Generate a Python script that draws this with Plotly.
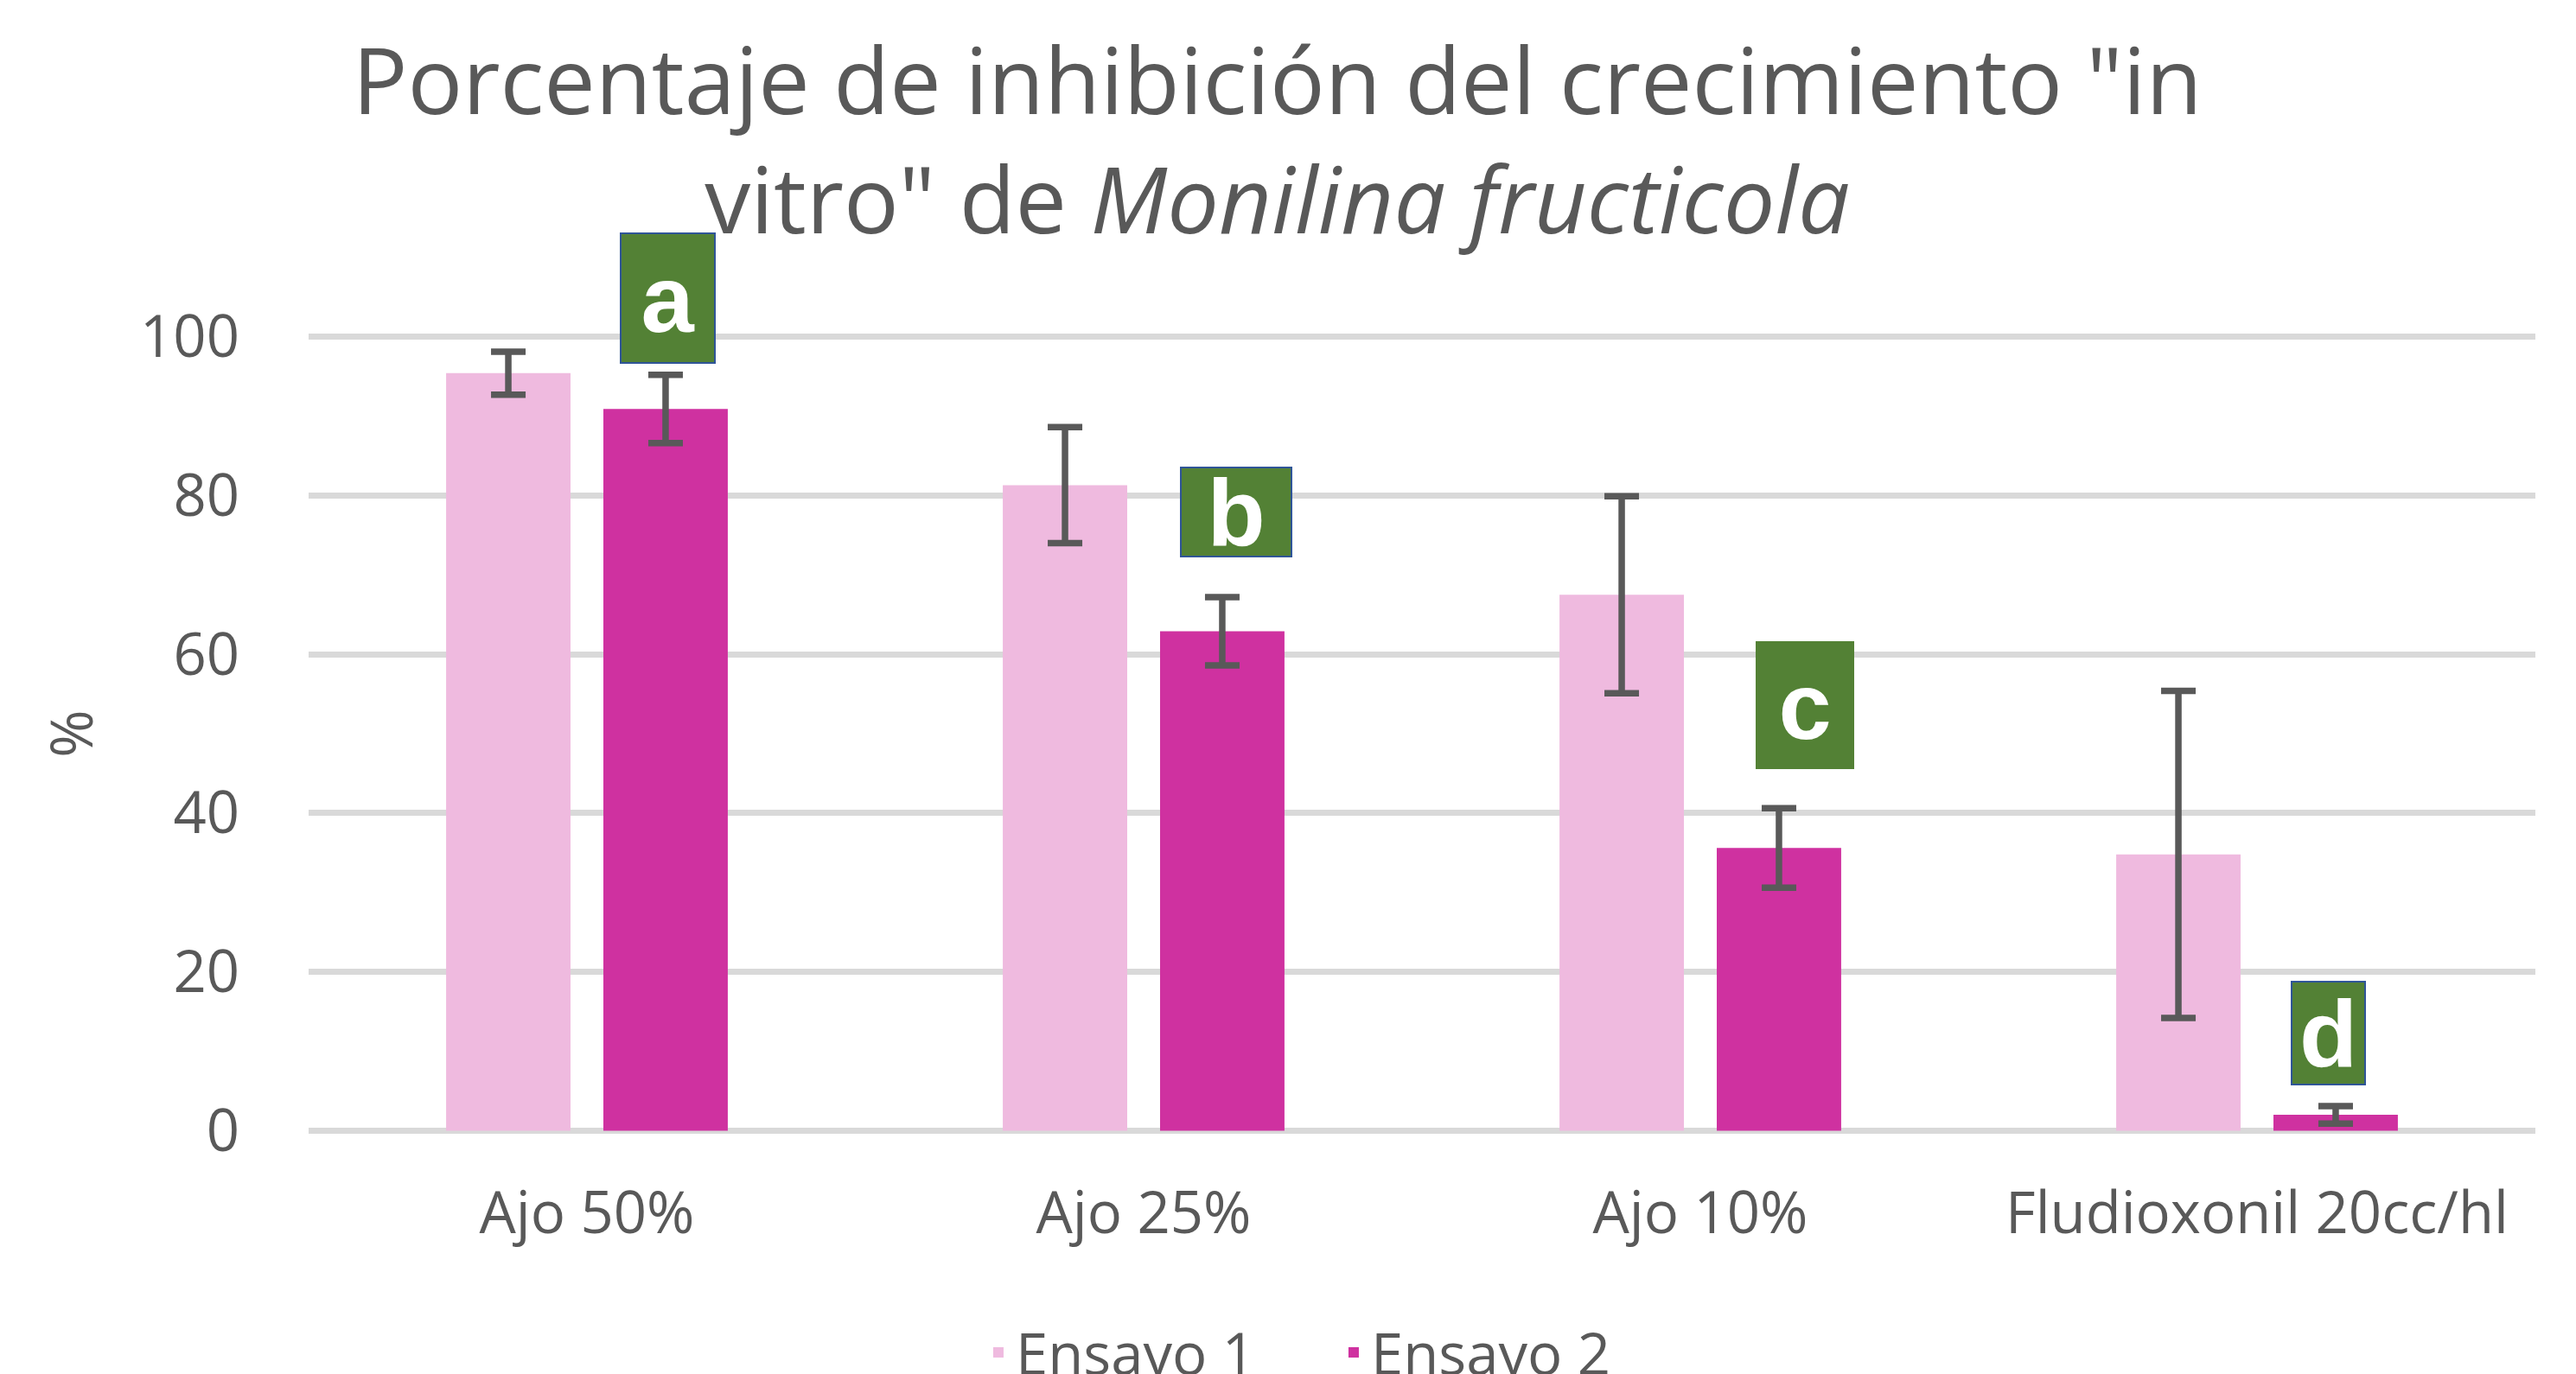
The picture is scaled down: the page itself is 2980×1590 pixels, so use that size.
import plotly.graph_objects as go

# ---- data ----
categories = ["Ajo 50%", "Ajo 25%", "Ajo 10%", "Fludioxonil 20cc/hl"]
ensayo1 = [95.4, 81.3, 67.5, 34.8]
ensayo1_err = [2.7, 7.3, 12.4, 20.6]
ensayo2 = [90.9, 62.9, 35.6, 2.0]
ensayo2_err = [4.3, 4.3, 5.0, 1.1]
letters = ["a", "b", "c", "d"]
series_names = ["Ensayo 1", "Ensayo 2"]
y_ticks = [0, 20, 40, 60, 80, 100]

# ---- styling ----
GRAY = "#595959"
FONT = "Open Sans"
COL1 = "#EFBADF"
COL2 = "#CF31A0"
TICK_SIZE = 67

# letter-box placement (style, in px / data units)
box_bottom = [96.6, 72.2, 45.5, 5.7]
box_xshift = [93, 107, 121, 82]
box_w = [111, 130, 114, 87]
box_h = [152, 105, 148, 121]
box_border = [True, True, False, True]

fig = go.Figure()
for name, vals, errs, col in [
    (series_names[0], ensayo1, ensayo1_err, COL1),
    (series_names[1], ensayo2, ensayo2_err, COL2),
]:
    fig.add_trace(go.Bar(
        name=name, x=categories, y=vals,
        marker=dict(color=col, line=dict(width=0)),
        error_y=dict(type="data", array=errs, visible=True,
                     color=GRAY, thickness=7.5, width=20),
    ))

for i, L in enumerate(letters):
    fig.add_annotation(
        x=categories[i], y=box_bottom[i], xref="x", yref="y",
        xshift=box_xshift[i], yanchor="bottom", xanchor="center",
        text=f"<b>{L}</b>", showarrow=False,
        font=dict(family="Liberation Sans", size=110, color="white"),
        bgcolor="#538135",
        bordercolor="#2F5597" if box_border[i] else "#538135",
        borderwidth=2, borderpad=0,
        width=box_w[i] - 4, height=box_h[i] - 4,
        align="center", valign="middle",
    )

fig.update_layout(
    width=2972, height=1582,
    margin=dict(l=349, r=47, t=377.4, b=276.9, autoexpand=False),
    paper_bgcolor="white", plot_bgcolor="white",
    barmode="group", bargap=0.435, bargroupgap=0.209,
    font=dict(family=FONT, color=GRAY, size=TICK_SIZE),
    title=dict(
        text='Porcentaje de inhibición del crecimiento "in<br>vitro" de <i>Monilina fructicola</i>',
        x=0.4945, xanchor="center", xref="container",
        y=1 - 124 / 1582, yanchor="top", yref="container",
        font=dict(family=FONT, size=106, color=GRAY),
    ),
    legend=dict(
        orientation="h", x=0.302, xanchor="left", y=-0.272, yanchor="middle",
        entrywidth=366, entrywidthmode="pixels",
        font=dict(family=FONT, size=TICK_SIZE, color=GRAY),
        bgcolor="rgba(0,0,0,0)",
    ),
    xaxis=dict(
        showgrid=False, zeroline=False, showline=False, ticks="",
        tickfont=dict(family=FONT, size=TICK_SIZE, color=GRAY),
        ticklabelstandoff=46,
    ),
    yaxis=dict(
        range=[-0.5, 100.5], tickvals=y_ticks, showgrid=True,
        gridcolor="#D9D9D9", gridwidth=7, zeroline=False, showline=False,
        ticks="", tickfont=dict(family=FONT, size=TICK_SIZE, color=GRAY),
        ticklabelstandoff=79,
        title=dict(text="%", standoff=32, font=dict(family=FONT, size=TICK_SIZE, color=GRAY)),
    ),
)

fig.write_html("out.html")
